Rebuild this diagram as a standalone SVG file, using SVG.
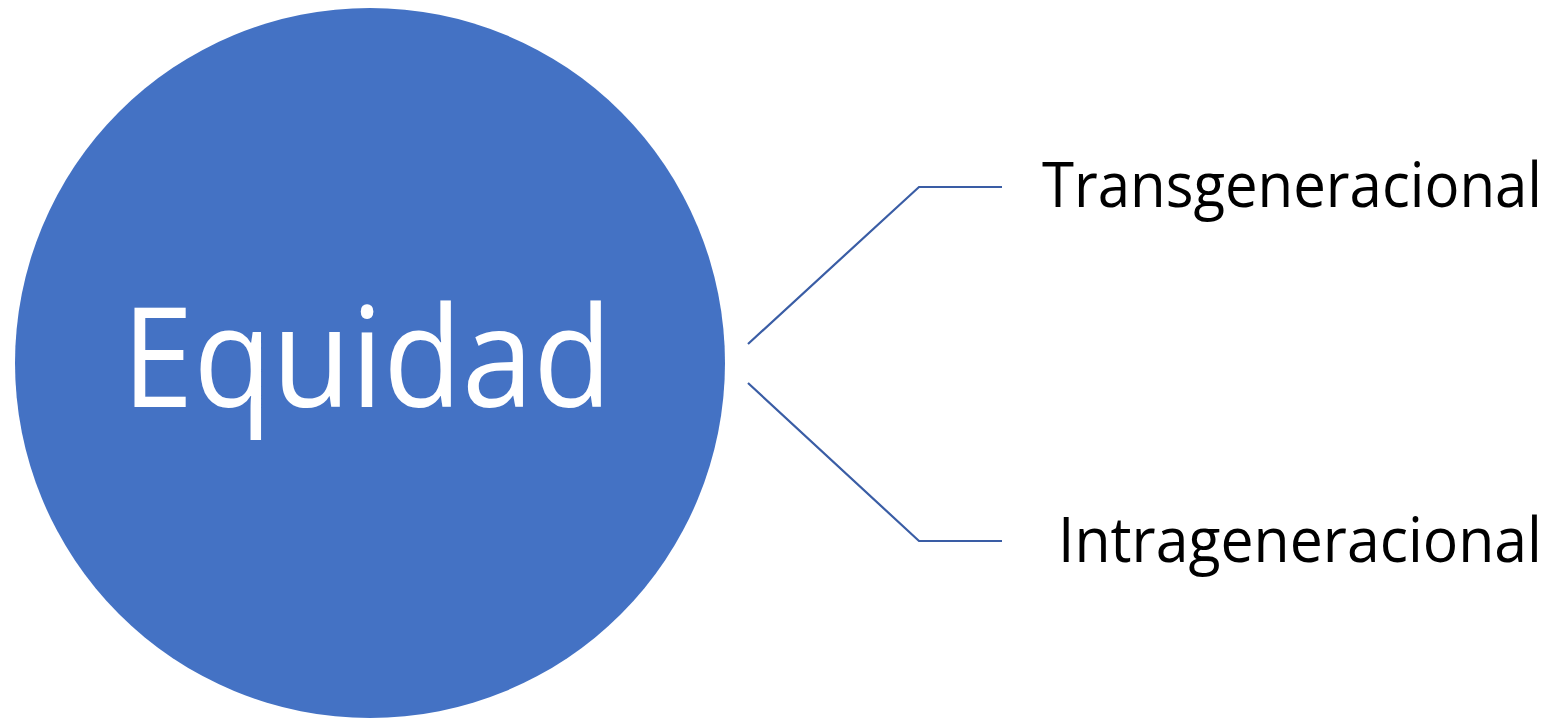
<svg xmlns="http://www.w3.org/2000/svg" width="1562" height="721" viewBox="0 0 1562 721">
<style>
.lbl{font-family:"Open Sans","Noto Sans","Liberation Sans",sans-serif;fill:#000}
.conn{fill:none;stroke:#3A5DA5;stroke-width:2.2;stroke-linejoin:miter}
</style>
<rect width="1562" height="721" fill="#fff"/>
<g id="equidad">
<circle cx="370" cy="363" r="355" fill="#4472C4"/>
<text x="122" y="407" font-family="Open Sans, Noto Sans, Liberation Sans, sans-serif" font-size="140" fill="#fff" textLength="490" lengthAdjust="spacingAndGlyphs">Equidad</text>
</g>
<g id="connectors">
<polyline class="conn" points="748,344 919,187 1002,187"/>
<polyline class="conn" points="748,383 919,541 1002,541"/>
</g>
<g id="transgeneracional">
<text class="lbl" x="1042" y="207" font-size="62" textLength="500" lengthAdjust="spacingAndGlyphs">Transgeneracional</text>
</g>
<g id="intrageneracional">
<text class="lbl" x="1058" y="562" font-size="62" textLength="484" lengthAdjust="spacingAndGlyphs">Intrageneracional</text>
</g>
</svg>
